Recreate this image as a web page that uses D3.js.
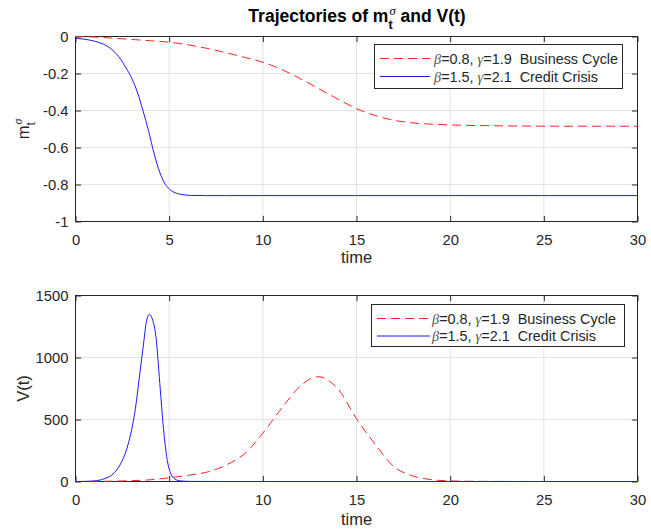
<!DOCTYPE html>
<html>
<head>
<meta charset="utf-8">
<script src="https://cdn.jsdelivr.net/npm/d3@7"></script>
<style>
  html, body { margin: 0; padding: 0; background: #fff; }
  svg { display: block; font-family: "Liberation Sans", Arial, sans-serif; }
  text { white-space: pre; }
</style>
</head>
<body>
<svg id="chart" width="651" height="532"></svg>
<script>
// ---- data -------------------------------------------------------------
// Business cycle (beta=0.8, gamma=1.9): m_t^sigma
const tBizM = [0, 1, 2, 3, 4, 5, 6, 7, 8, 9, 10, 11, 12, 13, 14, 15, 16, 17, 18, 19, 20, 22, 24, 26, 28, 30];
const mBiz  = [0, -0.003, -0.009, -0.016, -0.023, -0.031, -0.045, -0.064, -0.087, -0.112, -0.139, -0.178,
               -0.228, -0.283, -0.338, -0.39, -0.427, -0.453, -0.467, -0.474, -0.478, -0.482, -0.484, -0.485, -0.485, -0.485];

// Credit crisis (beta=1.5, gamma=2.1): m_t^sigma
const tCrisisM = [0, 0.5, 1, 1.5, 2, 2.4, 2.7, 3, 3.3, 3.6, 3.9, 4.2, 4.5, 4.8, 5.1, 5.4, 5.8, 6.2, 7, 8, 10, 15, 20, 25, 30];
const mCrisis  = [-0.01, -0.015, -0.025, -0.042, -0.075, -0.122, -0.17, -0.225, -0.3, -0.4, -0.51, -0.635, -0.735,
                  -0.8, -0.832, -0.848, -0.856, -0.859, -0.86, -0.86, -0.86, -0.86, -0.86, -0.86, -0.86];

// Business cycle: V(t)
const tBizV = [0, 1, 2, 3, 4, 5, 6, 7, 8, 9, 10, 11, 12, 12.5, 13, 13.5, 14, 15, 16, 17, 18, 19, 20, 22, 25, 30];
const vBiz  = [0, 1, 3, 7, 14, 30, 50, 75, 130, 220, 390, 590, 770, 825, 845, 815, 750, 505, 300, 120, 45, 15, 5, 1, 0, 0];

// Credit crisis: V(t)
const tCrisisV = [0, 0.5, 1, 1.5, 2, 2.4, 2.8, 3.0, 3.2, 3.4, 3.6, 3.8, 3.95, 4.1, 4.3, 4.5, 4.7, 4.9, 5.1, 5.3, 5.6, 6, 8, 10, 15, 20, 25, 30];
const vCrisis  = [0, 1, 5, 20, 60, 140, 295, 420, 590, 830, 1070, 1300, 1348, 1310, 1160, 790, 420, 170, 60, 20, 5, 1, 0, 0, 0, 0, 0, 0];

// axis ticks
const xTicks = [0, 5, 10, 15, 20, 25, 30];
const mTicks = [-1, -0.8, -0.6, -0.4, -0.2, 0];
const mTickLabels = ["-1", "-0.8", "-0.6", "-0.4", "-0.2", "0"];
const vTicks = [0, 500, 1000, 1500];
const vTickLabels = ["0", "500", "1000", "1500"];

// legend entries
const seriesNames = [
  { beta: "0.8", gamma: "1.9", name: "  Business Cycle" },
  { beta: "1.5", gamma: "2.1", name: "  Credit Crisis" }
];

// ---- drawing ----------------------------------------------------------
const svg = d3.select("#chart");
const AX = "#262626", GRID = "#e3e3e3";
const RED = "#ff2020", BLUE = "#1a1aff";
const DASH = "9,5";
const tickFont = 14.8, labelFont = 16.5, legendFont = 14.4;

const x = d3.scaleLinear().domain([0, 30]).range([75.5, 637.5]);

function panel(cfg) {
  const y = d3.scaleLinear().domain(cfg.domain).range([cfg.bottom, cfg.top]);
  const g = svg.append("g");

  // grid
  g.append("g").selectAll("line.vg").data(xTicks).join("line")
    .attr("x1", d => x(d)).attr("x2", d => x(d))
    .attr("y1", cfg.top).attr("y2", cfg.bottom)
    .attr("stroke", GRID).attr("stroke-width", 1);
  g.append("g").selectAll("line.hg").data(cfg.ticks).join("line")
    .attr("x1", x.range()[0]).attr("x2", x.range()[1])
    .attr("y1", d => y(d)).attr("y2", d => y(d))
    .attr("stroke", GRID).attr("stroke-width", 1);

  // axes with inward ticks
  const tk = 5.6;
  const styleAxis = sel => {
    sel.select(".domain").remove();
    sel.selectAll(".tick line").attr("stroke", AX);
    sel.selectAll(".tick text").attr("fill", AX).attr("font-size", tickFont)
      .attr("font-family", "'Liberation Sans', Arial, sans-serif");
  };
  g.append("g").attr("transform", `translate(0,${cfg.bottom})`)
    .call(d3.axisBottom(x).tickValues(xTicks).tickSizeInner(-tk).tickSizeOuter(0).tickPadding(12.5).tickFormat(d3.format("d")))
    .call(styleAxis);
  g.append("g").attr("transform", `translate(0,${cfg.top})`)
    .call(d3.axisTop(x).tickValues(xTicks).tickSizeInner(-tk).tickSizeOuter(0).tickFormat(""))
    .call(styleAxis);
  g.append("g").attr("transform", `translate(${x.range()[0]},0)`)
    .call(d3.axisLeft(y).tickValues(cfg.ticks).tickSizeInner(-tk).tickSizeOuter(0).tickPadding(7)
      .tickFormat((d, i) => cfg.tickLabels[i]))
    .call(styleAxis);
  g.append("g").attr("transform", `translate(${x.range()[1]},0)`)
    .call(d3.axisRight(y).tickValues(cfg.ticks).tickSizeInner(-tk).tickSizeOuter(0).tickFormat(""))
    .call(styleAxis);

  // box
  g.append("rect")
    .attr("x", x.range()[0]).attr("y", cfg.top)
    .attr("width", x.range()[1] - x.range()[0]).attr("height", cfg.bottom - cfg.top)
    .attr("fill", "none").attr("stroke", AX).attr("stroke-width", 1);

  // series (drawn over the box so curves lying on the axis stay visible)
  const line = d3.line().x(d => x(d[0])).y(d => y(d[1])).curve(d3.curveMonotoneX);
  cfg.series.forEach(s => {
    g.append("path")
      .datum(d3.zip(s.t, s.v))
      .attr("d", line)
      .attr("fill", "none")
      .attr("stroke", s.color)
      .attr("stroke-width", 1)
      .attr("stroke-dasharray", s.dash || null);
  });

  // x label
  g.append("text").attr("x", (x.range()[0] + x.range()[1]) / 2).attr("y", cfg.xLabelY)
    .attr("text-anchor", "middle").attr("font-size", labelFont).attr("fill", AX).text("time");

  // legend
  const L = cfg.legend;
  const lg = g.append("g");
  lg.append("rect").attr("x", L.x0).attr("y", L.y0).attr("width", L.x1 - L.x0).attr("height", L.y1 - L.y0)
    .attr("fill", "#fff").attr("stroke", AX).attr("stroke-width", 1);
  seriesNames.forEach((sn, i) => {
    const s = cfg.series[i];
    const yy = L.rows[i];
    lg.append("line").attr("x1", L.lx0).attr("x2", L.lx1).attr("y1", yy).attr("y2", yy)
      .attr("stroke", s.color).attr("stroke-width", 1).attr("stroke-dasharray", s.dash || null);
    const t = lg.append("text").attr("x", L.tx).attr("y", yy).attr("dy", "0.35em")
      .attr("font-size", legendFont).attr("fill", AX);
    t.append("tspan").attr("font-family", "'Liberation Serif', serif").attr("font-style", "italic").attr("fill", "#555").text("β");
    t.append("tspan").text("=" + sn.beta + ", ");
    t.append("tspan").attr("font-family", "'Liberation Serif', serif").attr("font-style", "italic").attr("fill", "#555").text("γ");
    t.append("tspan").text("=" + sn.gamma + sn.name);
  });
  return y;
}

panel({
  top: 36.5, bottom: 221.5, domain: [-1, 0], ticks: mTicks, tickLabels: mTickLabels, xLabelY: 263,
  series: [
    { t: tBizM, v: mBiz, color: RED, dash: DASH },
    { t: tCrisisM, v: mCrisis, color: BLUE }
  ],
  legend: { x0: 374.5, x1: 622.5, y0: 44.5, y1: 88.5, lx0: 380, lx1: 430, tx: 434, rows: [58.5, 76.5] }
});

panel({
  top: 295.5, bottom: 481.5, domain: [0, 1500], ticks: vTicks, tickLabels: vTickLabels, xLabelY: 525,
  series: [
    { t: tBizV, v: vBiz, color: RED, dash: DASH },
    { t: tCrisisV, v: vCrisis, color: BLUE }
  ],
  legend: { x0: 371.5, x1: 624.5, y0: 304.5, y1: 346.5, lx0: 377, lx1: 430, tx: 432, rows: [318.5, 336] }
});

// ---- title and y labels with m_t^sigma -----------------------------------
// builds "pre m_t^σ post" with the sub/superscript stacked at one x position
function mSigma(parent, pre, post, size, weight) {
  const g = parent.append("g").attr("font-size", size).attr("font-weight", weight).attr("fill", weight === "bold" ? "#000" : AX);
  const a = g.append("text").text(pre);
  const wa = a.node().getComputedTextLength();
  const sub = g.append("text").attr("x", wa).attr("y", size * 0.38).attr("font-size", size * 0.72).text("t");
  const sup = g.append("text").attr("x", wa + 1).attr("y", -size * 0.42).attr("font-size", size * 0.72)
    .attr("font-weight", "normal").attr("font-style", "italic").attr("font-family", "'Liberation Serif', serif").text("σ");
  const ws = Math.max(sub.node().getComputedTextLength(), sup.node().getComputedTextLength() + 1);
  const b = g.append("text").attr("x", wa + ws).text(post);
  const total = wa + ws + b.node().getComputedTextLength();
  return { g, total };
}

const title = mSigma(svg, "Trajectories of m", " and V(t)", 17.5, "bold");
title.g.attr("transform", `translate(${357 - title.total / 2},22)`);

const yl = mSigma(svg, "m", "", labelFont, "normal");
yl.g.attr("transform", `translate(29,${129 + yl.total / 2}) rotate(-90)`);

svg.append("text").attr("transform", "translate(29,388.5) rotate(-90)")
  .attr("text-anchor", "middle").attr("font-size", labelFont).attr("fill", AX).text("V(t)");
</script>
</body>
</html>
